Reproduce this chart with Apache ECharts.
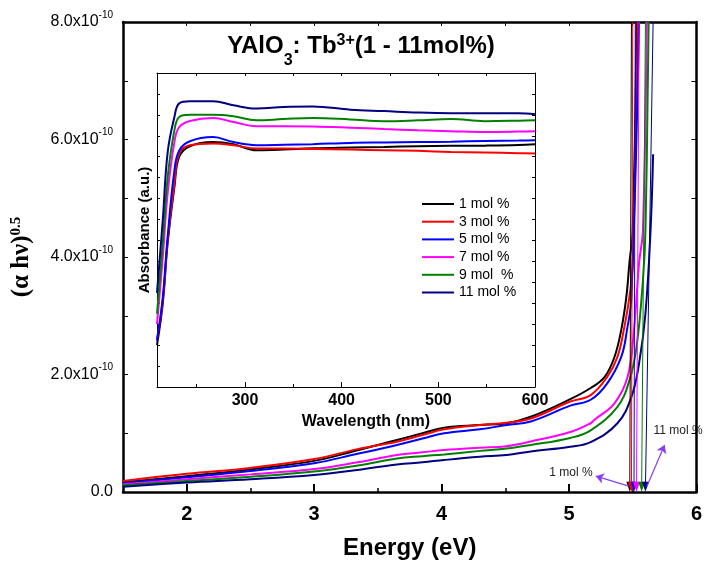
<!DOCTYPE html>
<html>
<head>
<meta charset="utf-8">
<script src="https://cdn.jsdelivr.net/npm/echarts@6/dist/echarts.min.js"></script>
<style>
  html, body { margin: 0; padding: 0; background: #fff; }
  #chart { width: 705px; height: 567px; }
</style>
</head>
<body>
<div id="chart"></div>
<script>
// names and colours of the six concentrations
const names = ['1 mol %', '3 mol %', '5 mol %', '7 mol %', '9 mol  %', '11 mol %']
const colors = ['#000000', '#ff0000', '#0000ff', '#ff00ff', '#008000', '#000080']

// main plot: (alpha h nu)^0.5 in units of 1e-10 vs energy (eV)
const energyLow = [1.5, 2.0, 2.5, 3.0, 3.34, 3.65, 3.85, 4.02, 4.3, 4.51, 4.7, 5.01, 5.17]
const energyEdge = [
  [5.28, 5.357, 5.41, 5.45, 5.474, 5.5, 5.53],
  [5.30, 5.38, 5.43, 5.474, 5.5, 5.54],
  [5.30, 5.41, 5.455, 5.49, 5.55],
  [5.20, 5.357, 5.46, 5.51, 5.55, 5.58, 5.61],
  [5.38, 5.474, 5.53, 5.58, 5.60, 5.625],
  [5.38, 5.49, 5.55, 5.60, 5.64, 5.66],
]
const tauc = [
  [0.165, 0.27, 0.385, 0.53, 0.71, 0.885, 1.0, 1.095, 1.14, 1.17, 1.28, 1.58, 1.77, 1.96, 2.30, 2.76, 3.32, 3.9, 4.46, 8.0],
  [0.187, 0.31, 0.41, 0.56, 0.73, 0.857, 0.97, 1.067, 1.14, 1.18, 1.25, 1.54, 1.65, 1.96, 2.30, 2.76, 3.32, 3.9, 8.0],
  [0.148, 0.25, 0.357, 0.49, 0.65, 0.8, 0.91, 1.0, 1.067, 1.14, 1.2, 1.47, 1.57, 1.85, 2.30, 2.76, 3.32, 8.0],
  [0.13, 0.216, 0.30, 0.39, 0.505, 0.63, 0.675, 0.715, 0.755, 0.78, 0.86, 1.02, 1.17, 1.23, 1.51, 1.96, 2.76, 3.9, 4.46, 8.0],
  [0.114, 0.187, 0.26, 0.35, 0.45, 0.57, 0.61, 0.64, 0.70, 0.74, 0.80, 0.92, 1.05, 1.45, 1.9, 2.47, 3.6, 4.46, 8.0],
  [0.09, 0.16, 0.216, 0.29, 0.374, 0.47, 0.505, 0.545, 0.60, 0.63, 0.69, 0.77, 0.85, 1.17, 1.62, 2.19, 3.04, 4.46, 5.75],
]
// band-gap extrapolation lines: energy at top of plot and at the axis
const gapTop = [5.49, 5.50, 5.52, 5.55, 5.60, 5.66]
const gapBottom = [5.477, 5.49, 5.51, 5.53, 5.57, 5.60]

// inset: absorbance (a.u.) vs wavelength (nm)
const wavelength = [209, 215, 220, 227, 232, 243, 267, 288, 312, 340, 370, 409, 444, 479, 513, 548, 583, 600]
const absorbance = [
  [2.0, 4.0, 6.87, 9.55, 11.0, 11.5, 11.7, 11.6, 11.31, 11.34, 11.4, 11.44, 11.47, 11.5, 11.52, 11.53, 11.56, 11.6],
  [2.3, 4.15, 7.0, 9.72, 11.15, 11.55, 11.63, 11.55, 11.39, 11.39, 11.37, 11.34, 11.31, 11.28, 11.23, 11.2, 11.17, 11.15],
  [2.2, 4.3, 7.17, 10.35, 11.3, 11.74, 11.94, 11.7, 11.55, 11.57, 11.6, 11.66, 11.68, 11.7, 11.72, 11.75, 11.77, 11.79],
  [3.0, 6.2, 9.25, 11.7, 12.42, 12.71, 12.85, 12.66, 12.46, 12.46, 12.45, 12.39, 12.32, 12.26, 12.22, 12.18, 12.2, 12.22],
  [3.5, 6.9, 10.0, 12.26, 12.9, 13.0, 13.0, 12.93, 12.74, 12.8, 12.85, 12.78, 12.7, 12.74, 12.8, 12.7, 12.72, 12.74],
  [4.5, 8.0, 11.2, 12.9, 13.55, 13.65, 13.65, 13.46, 13.3, 13.38, 13.4, 13.25, 13.18, 13.11, 13.08, 13.08, 13.08, 13.03],
]

const energyTicks = [2, 3, 4, 5, 6]
const energyMinor = [2.5, 3.5, 4.5, 5.5]
const wlTicks = [300, 400, 500, 600]
const wlMinor = [250, 350, 450, 550]

const sans = 'Liberation Sans'
const serif = 'Liberation Serif'
const purple = '#8a3cf0'

const chart = echarts.init(document.getElementById('chart'))

const mainSeries = names.map((name, i) => ({
  type: 'line',
  name: name,
  xAxisIndex: 0,
  yAxisIndex: 0,
  data: energyLow.concat(energyEdge[i]).map((e, j) => [e, tauc[i][j]]),
  symbol: 'none',
  smooth: 0.4,
  lineStyle: { color: colors[i], width: 2 },
  itemStyle: { color: colors[i] },
  z: 3,
  markLine: {
    silent: true,
    animation: false,
    symbol: ['none', 'triangle'],
    symbolSize: [7, 10],
    label: { show: false },
    lineStyle: { color: colors[i], width: 1, type: 'solid' },
    itemStyle: { color: colors[i], borderColor: '#000', borderWidth: 0.5 },
    data: [[{ coord: [gapTop[i], 8] }, { coord: [gapBottom[i], 0.09] }]],
  },
}))

const insetSeries = names.map((name, i) => ({
  type: 'line',
  name: name,
  xAxisIndex: 3,
  yAxisIndex: 2,
  data: wavelength.map((w, j) => [w, absorbance[i][j]]),
  symbol: 'none',
  smooth: 0.4,
  lineStyle: { color: colors[i], width: 2 },
  itemStyle: { color: colors[i] },
}))

// purple arrows for the annotations
const annotationSeries = {
  type: 'line',
  xAxisIndex: 0,
  yAxisIndex: 0,
  data: [],
  markLine: {
    silent: true,
    animation: false,
    symbol: ['none', 'arrow'],
    symbolSize: 8,
    label: { show: false },
    lineStyle: { color: purple, width: 1.2, type: 'solid' },
    itemStyle: { color: purple },
    data: [
      [{ coord: [5.47, 0.1] }, { coord: [5.21, 0.27] }],
      [{ coord: [5.61, 0.09] }, { coord: [5.75, 0.8] }],
    ],
  },
}

const blackLine = (w) => ({ lineStyle: { color: '#000', width: w } })

const option = {
  animation: false,
  textStyle: { fontFamily: sans },
  grid: [
    { left: 123, top: 22, width: 577, height: 470 },
    { left: 157, top: 73, width: 378, height: 314 },
  ],
  legend: {
    data: names,
    orient: 'vertical',
    left: 417,
    top: 192,
    icon: 'rect',
    itemWidth: 32,
    itemHeight: 2,
    itemGap: 3.7,
    selectedMode: false,
    textStyle: { fontSize: 14, color: '#000', lineHeight: 14, fontFamily: sans },
  },
  xAxis: [
    {
      gridIndex: 0, type: 'value', position: 'bottom', min: 1.5, max: 6,
      axisLine: blackLine(2.5),
      axisTick: { inside: true, length: 8, customValues: energyTicks, lineStyle: { color: '#000', width: 2 } },
      axisLabel: { customValues: energyTicks, fontSize: 20, fontWeight: 'bold', color: '#000', margin: 12 },
      splitLine: { show: false },
      name: 'Energy (eV)', nameLocation: 'middle', nameGap: 44,
      nameTextStyle: { fontSize: 24, fontWeight: 'bold', color: '#000' },
    },
    {
      gridIndex: 0, type: 'value', position: 'bottom', min: 1.5, max: 6,
      axisLine: { show: false },
      axisTick: { inside: true, length: 4, customValues: energyMinor, lineStyle: { color: '#000', width: 1.5 } },
      axisLabel: { show: false },
      splitLine: { show: false },
    },
    {
      gridIndex: 0, type: 'value', position: 'top', min: 1.5, max: 6,
      axisLine: blackLine(2.5),
      axisTick: { inside: true, length: 4, customValues: [2, 2.5, 3, 3.5, 4, 4.5, 5, 5.5], lineStyle: { color: '#000', width: 1 } },
      axisLabel: { show: false },
      splitLine: { show: false },
    },
    {
      gridIndex: 1, type: 'value', position: 'bottom', min: 209, max: 600,
      axisLine: blackLine(1),
      axisTick: { inside: true, length: 5, customValues: wlTicks, lineStyle: { color: '#000', width: 1 } },
      axisLabel: { customValues: wlTicks, fontSize: 16, fontWeight: 'bold', color: '#000', margin: 6 },
      splitLine: { show: false },
      name: 'Wavelength (nm)', nameLocation: 'middle', nameGap: 24,
      nameTextStyle: { fontSize: 16, fontWeight: 'bold', color: '#000', padding: [0, 0, 0, 40] },
    },
    {
      gridIndex: 1, type: 'value', position: 'bottom', min: 209, max: 600,
      axisLine: { show: false },
      axisTick: { inside: true, length: 3, customValues: wlMinor, lineStyle: { color: '#000', width: 1 } },
      axisLabel: { show: false },
      splitLine: { show: false },
    },
    {
      gridIndex: 1, type: 'value', position: 'top', min: 209, max: 600,
      axisLine: blackLine(1),
      axisTick: { inside: true, length: 3, customValues: wlMinor.concat([300, 400, 500]), lineStyle: { color: '#000', width: 1 } },
      axisLabel: { show: false },
      splitLine: { show: false },
    },
  ],
  yAxis: [
    {
      gridIndex: 0, type: 'value', position: 'left', min: 0, max: 8, interval: 1,
      axisLine: { show: true, lineStyle: { color: '#000', width: 2.5 } },
      axisTick: { show: true, inside: true, length: 5, lineStyle: { color: '#000', width: 1 } },
      axisLabel: {
        margin: 10,
        formatter: (v) => (v % 2 !== 0 ? '' : v === 0 ? '{a|0.0}' : '{a|' + v.toFixed(1) + 'x10}{s|-10}'),
        rich: {
          a: { fontSize: 16, color: '#000', fontFamily: sans },
          s: { fontSize: 10, color: '#000', fontFamily: sans, padding: [0, 0, 14, 0] },
        },
      },
      splitLine: { show: false },
      name: '(α hν){s|0.5}', nameLocation: 'middle', nameGap: 88, nameRotate: 90,
      nameTextStyle: {
        fontFamily: serif, fontSize: 25, fontWeight: 'bold', color: '#000',
        rich: { s: { fontFamily: serif, fontSize: 15, fontWeight: 'bold', color: '#000', padding: [0, 0, 11, 0] } },
      },
    },
    {
      gridIndex: 0, type: 'value', position: 'right', min: 0, max: 8, interval: 1,
      axisLine: { show: true, lineStyle: { color: '#000', width: 2.5 } },
      axisTick: { show: true, inside: true, length: 5, lineStyle: { color: '#000', width: 1 } },
      axisLabel: { show: false },
      splitLine: { show: false },
    },
    {
      gridIndex: 1, type: 'value', position: 'left', min: 0, max: 15, interval: 1,
      axisLine: { show: true, lineStyle: { color: '#000', width: 1 } },
      axisTick: { show: true, inside: true, length: 3, lineStyle: { color: '#000', width: 1 } },
      axisLabel: { show: false },
      splitLine: { show: false },
      name: 'Absorbance (a.u.)', nameLocation: 'middle', nameGap: 5, nameRotate: 90,
      nameTextStyle: { fontSize: 15, fontWeight: 'bold', color: '#000' },
    },
    {
      gridIndex: 1, type: 'value', position: 'right', min: 0, max: 15, interval: 1,
      axisLine: { show: true, lineStyle: { color: '#000', width: 1 } },
      axisTick: { show: true, inside: true, length: 3, lineStyle: { color: '#000', width: 1 } },
      axisLabel: { show: false },
      splitLine: { show: false },
    },
  ],
  graphic: [
    {
      type: 'text', x: 361, y: 46,
      style: {
        text: '{a|YAlO}{b|3}{a|: Tb}{c|3+}{a|(1 - 11mol%)}',
        align: 'center', verticalAlign: 'middle', textAlign: 'center', textVerticalAlign: 'middle',
        fill: '#000',
        rich: {
          a: { fontSize: 24, fontWeight: 'bold', fontFamily: sans, lineHeight: 24 },
          b: { fontSize: 16, fontWeight: 'bold', fontFamily: sans, padding: [30, 0, 0, 0] },
          c: { fontSize: 16, fontWeight: 'bold', fontFamily: sans, padding: [0, 0, 10, 0] },
        },
      },
    },
    {
      type: 'text', x: 571, y: 473,
      style: { text: '1 mol %', fontSize: 12, fontFamily: sans, fill: '#222',
        align: 'center', verticalAlign: 'middle', textAlign: 'center', textVerticalAlign: 'middle' },
    },
    {
      type: 'text', x: 678, y: 431,
      style: { text: '11 mol %', fontSize: 12, fontFamily: sans, fill: '#222',
        align: 'center', verticalAlign: 'middle', textAlign: 'center', textVerticalAlign: 'middle' },
    },
  ],
  series: mainSeries.concat(insetSeries, [annotationSeries]),
}

chart.setOption(option)
</script>
</body>
</html>
